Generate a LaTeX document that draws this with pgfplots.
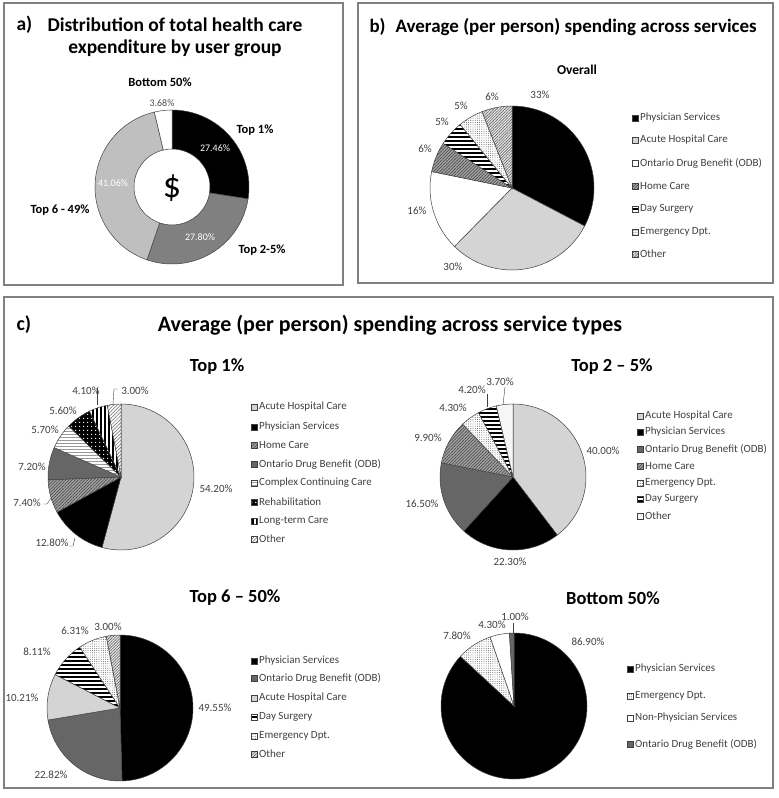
\documentclass[border=0pt]{standalone}
\usepackage{pgfplots}
\pgfplotsset{compat=1.18}
\usepackage{pgfplotstable}
\usepackage{fontspec}
\setmainfont{Carlito}
\usetikzlibrary{patterns,patterns.meta}

% wide tiles that overlap, so that no seams show between them
\pgfdeclarepatternformonly{hstripe}{\pgfpoint{-1pt}{0pt}}{\pgfpoint{21pt}{4pt}}{\pgfpoint{20pt}{4pt}}{%
  \pgfpathrectangle{\pgfpoint{-1pt}{0pt}}{\pgfpoint{22pt}{2.2pt}}\pgfusepath{fill}}
\pgfdeclarepatternformonly{hthin}{\pgfpoint{-1pt}{0pt}}{\pgfpoint{21pt}{3pt}}{\pgfpoint{20pt}{3pt}}{%
  \pgfpathrectangle{\pgfpoint{-1pt}{0pt}}{\pgfpoint{22pt}{0.9pt}}\pgfusepath{fill}}
\pgfdeclarepatternformonly{vstripe}{\pgfpoint{0pt}{-1pt}}{\pgfpoint{4pt}{21pt}}{\pgfpoint{4pt}{20pt}}{%
  \pgfpathrectangle{\pgfpoint{0pt}{-1pt}}{\pgfpoint{2pt}{22pt}}\pgfusepath{fill}}

% slice values and fill styles, clockwise from 12 o'clock
\pgfplotstableread{
v s
27.46 cblack
27.80 cmid
41.06 clighttwo
3.68 cwhite
}\donut
\pgfplotstableread{
v s
33 cblack
30 clight
16 cwhite
6 home
5 day
5 emerg
6 otherx
}\overall
\pgfplotstableread{
v s
54.2 clight
12.8 cblack
7.4 home
7.2 cdark
5.7 ccc
5.6 rehab
4.1 ltc
3.0 otherl
}\topone
\pgfplotstableread{
v s
40.0 clight
22.3 cblack
16.5 cdark
9.9 home
4.3 emerg
4.2 day
3.7 otherd
}\toptwo
\pgfplotstableread{
v s
49.55 cblack
22.82 cdark
10.21 clight
8.11 day
6.31 emerg
3.00 otherx
}\topsix
\pgfplotstableread{
v s
86.9 cblack
7.8 emerg
4.3 cwhite
1.0 cdark
}\bottom

\tikzset{
  sl/.style={draw=black!75, line width=0.5pt},
  slstyle/.style={#1},
  cblack/.style={fill=black},
  cmid/.style={fill=black!50},
  clighttwo/.style={fill=black!25},
  cwhite/.style={fill=white},
  clight/.style={fill=black!17},
  cdark/.style={fill=black!60},
  home/.style={preaction={fill=black!35}, pattern={Lines[angle=45,distance=2.2pt,line width=0.7pt]}, pattern color=black!70},
  day/.style={preaction={fill=white}, pattern=hstripe, pattern color=black},
  emerg/.style={preaction={fill=white}, pattern={Dots[distance=2.2pt,radius=0.45pt]}, pattern color=black!70},
  otherx/.style={preaction={fill=black!10}, pattern={Lines[angle=45,distance=2pt,line width=0.6pt]}, pattern color=black!60},
  otherl/.style={preaction={fill=white}, pattern={Lines[angle=45,distance=2.5pt,line width=0.5pt]}, pattern color=black!60},
  otherd/.style={preaction={fill=white}, pattern={Dots[distance=2pt,radius=0.4pt]}, pattern color=black!40},
  ccc/.style={preaction={fill=white}, pattern=hthin, pattern color=black!40},
  rehab/.style={preaction={fill=black}, pattern={Dots[distance=4pt,radius=0.9pt]}, pattern color=white},
  ltc/.style={preaction={fill=white}, pattern=vstripe, pattern color=black},
  frame/.style={draw=black!50, line width=1.5pt},
  pct/.style={font=\fontsize{11}{13}\selectfont, text=black!75},
  inpct/.style={font=\fontsize{10}{12}\selectfont},
  legtxt/.style={font=\fontsize{11}{13}\selectfont, text=black!75, anchor=west, inner sep=0pt},
  ttl/.style={font=\fontsize{18.5}{21}\bfseries\selectfont},
}

% #1 table, #2 cx, #3 cy, #4 outer radius, #5 inner radius (0 = full pie)
\newcommand\pie[5]{%
  \pgfplotsextra{%
    \pgfplotstablegetrowsof{#1}\pgfmathtruncatemacro\nrows{\pgfplotsretval-1}%
    \gdef\tot{0}%
    \foreach \i in {0,...,\nrows}{%
      \pgfplotstablegetelem{\i}{v}\of{#1}\pgfmathsetmacro\tmp{\tot+\pgfplotsretval}\xdef\tot{\tmp}}%
    \gdef\acc{0}%
    \foreach \i in {0,...,\nrows}{%
      \pgfplotstablegetelem{\i}{v}\of{#1}\let\vv\pgfplotsretval
      \pgfplotstablegetelem{\i}{s}\of{#1}\let\sty\pgfplotsretval
      \pgfmathsetmacro\angA{90-(\acc/\tot)*360}%
      \pgfmathsetmacro\angB{90-((\acc+\vv)/\tot)*360}%
      \pgfmathsetmacro\xo{#2+#4*cos(\angA)}\pgfmathsetmacro\yo{#3-#4*sin(\angA)}%
      \ifdim #5pt>0pt
        \pgfmathsetmacro\xi{#2+#5*cos(\angB)}\pgfmathsetmacro\yi{#3-#5*sin(\angB)}%
        \path[sl,slstyle/.expand once=\sty] (axis cs:\xo,\yo) arc[start angle=\angA,end angle=\angB,radius=#4pt]
          -- (axis cs:\xi,\yi) arc[start angle=\angB,end angle=\angA,radius=#5pt] -- cycle;
      \else
        \path[sl,slstyle/.expand once=\sty] (axis cs:#2,#3) -- (axis cs:\xo,\yo)
          arc[start angle=\angA,end angle=\angB,radius=#4pt] -- cycle;
      \fi
      \pgfmathsetmacro\tmp{\acc+\vv}\xdef\acc{\tmp}%
    }%
  }%
}
% legend entry: x, y, style, text
\newcommand\leg[4]{%
  \path[sl,line width=0.4pt,#3] ({#1},{#2-3}) rectangle ({#1+6},{#2+3});
  \node[legtxt] at ({#1+8},{#2}) {#4};
}

\begin{document}
\begin{tikzpicture}
\begin{axis}[hide axis, scale only axis, width=779pt, height=798pt,
  xmin=0, xmax=779, ymin=0, ymax=798, y dir=reverse, clip=false, enlargelimits=false]
\path (0,0) rectangle (779,798);

% ---- panel a
\draw[frame] (4,3) rectangle (343,285);
\node[anchor=west, font=\fontsize{19.5}{22}\bfseries\selectfont] at (13,25) {a)};
\node[font=\fontsize{19.5}{22}\bfseries\selectfont] at (175,25) {Distribution of total health care};
\node[font=\fontsize{19.5}{22}\bfseries\selectfont] at (175,48) {expenditure by user group};
\pie{\donut}{172}{187}{77}{38}
\node[font=\fontsize{36}{38}\selectfont] at (172,188) {\$};
\node[inpct, text=white] at (215,148) {27.46\%};
\node[inpct, text=white] at (200,237) {27.80\%};
\node[inpct, text=white] at (113,183) {41.06\%};
\node[inpct, text=black!70] at (162,103) {3.68\%};
\node[font=\fontsize{12.5}{14}\bfseries\selectfont] at (160,82) {Bottom 50\%};
\node[font=\fontsize{12.5}{14}\bfseries\selectfont] at (255,130) {Top 1\%};
\node[font=\fontsize{12.5}{14}\bfseries\selectfont] at (60,210) {Top 6 - 49\%};
\node[font=\fontsize{12.5}{14}\bfseries\selectfont] at (262,250) {Top 2-5\%};

% ---- panel b
\draw[frame] (358,3) rectangle (773,283);
\node[anchor=west, font=\fontsize{19}{21}\bfseries\selectfont] at (366,27) {b)};
\node[anchor=west, font=\fontsize{19}{21}\bfseries\selectfont] at (392,27) {Average (per person) spending across services};
\node[font=\fontsize{13.5}{16}\bfseries\selectfont] at (577,70) {Overall};
\pie{\overall}{512}{188}{82}{0}
\node[pct] at (540,95) {33\%};
\node[pct] at (453,267) {30\%};
\node[pct] at (417,211) {16\%};
\node[pct] at (425,149) {6\%};
\node[pct] at (442,122) {5\%};
\node[pct] at (461,106) {5\%};
\node[pct] at (492,97) {6\%};
\leg{632}{118}{cblack}{Physician Services}
\leg{632}{140}{clight}{Acute Hospital Care}
\leg{632}{163}{cwhite}{Ontario Drug Benefit (ODB)}
\leg{632}{186}{home}{Home Care}
\leg{632}{209}{day}{Day Surgery}
\leg{632}{232}{emerg}{Emergency Dpt.}
\leg{632}{254}{otherx}{Other}

% ---- panel c
\draw[frame] (4,297) rectangle (773,788);
\node[anchor=west, font=\fontsize{20}{22}\bfseries\selectfont] at (13,325) {c)};
\node[font=\fontsize{22}{24}\bfseries\selectfont] at (390,325) {Average (per person) spending across service types};

% Top 1%
\node[ttl] at (217,367) {Top 1\%};
\pie{\topone}{121}{477}{73}{0}
\node[pct] at (216,489) {54.20\%};
\node[pct] at (52,543) {12.80\%};
\node[pct] at (27,503) {7.40\%};
\node[pct] at (32,467) {7.20\%};
\node[pct] at (45,430) {5.70\%};
\node[pct] at (63,411) {5.60\%};
\node[pct] at (86,391) {4.10\%};
\node[pct] at (135,391) {3.00\%};
\draw[black!75, line width=0.4pt] (69,546) -- (73,546) -- (75,538);
\draw[black!75, line width=0.4pt] (43,504) -- (47,504) -- (51,498);
\draw[black!75, line width=0.4pt] (97,388) -- (97,405);
\draw[black!75, line width=0.4pt] (118,389) -- (114,389) -- (113,404);
\leg{251}{407}{clight}{Acute Hospital Care}
\leg{251}{427}{cblack}{Physician Services}
\leg{251}{445}{home}{Home Care}
\leg{251}{464}{cdark}{Ontario Drug Benefit (ODB)}
\leg{251}{483}{ccc}{Complex Continuing Care}
\leg{251}{502}{rehab}{Rehabilitation}
\leg{251}{521}{ltc}{Long-term Care}
\leg{251}{539}{otherl}{Other}

% Top 2-5%
\node[ttl] at (612,367) {Top 2 -- 5\%};
\pie{\toptwo}{513}{477}{73}{0}
\node[pct] at (603,451) {40.00\%};
\node[pct] at (510,562) {22.30\%};
\node[pct] at (422,504) {16.50\%};
\node[pct] at (428,438) {9.90\%};
\node[pct] at (453,408) {4.30\%};
\node[pct] at (472,390) {4.20\%};
\node[pct] at (500,382) {3.70\%};
\draw[black!75, line width=0.4pt] (487,394) -- (487,407);
\draw[black!75, line width=0.4pt] (505,387) -- (503,405);
\leg{637}{416}{clight}{Acute Hospital Care}
\leg{637}{432}{cblack}{Physician Services}
\leg{637}{449}{cdark}{Ontario Drug Benefit (ODB)}
\leg{637}{466}{home}{Home Care}
\leg{637}{483}{emerg}{Emergency Dpt.}
\leg{637}{499}{day}{Day Surgery}
\leg{637}{516}{otherd}{Other}

% Top 6-50%
\node[ttl] at (235,598) {Top 6 -- 50\%};
\pie{\topsix}{120}{708}{73}{0}
\node[pct] at (215,708) {49.55\%};
\node[pct] at (51,775) {22.82\%};
\node[pct] at (22,698) {10.21\%};
\node[pct] at (37,652) {8.11\%};
\node[pct] at (75,631) {6.31\%};
\node[pct] at (108,627) {3.00\%};
\leg{251}{661}{cblack}{Physician Services}
\leg{251}{678}{cdark}{Ontario Drug Benefit (ODB)}
\leg{251}{698}{clight}{Acute Hospital Care}
\leg{251}{717}{day}{Day Surgery}
\leg{251}{736}{emerg}{Emergency Dpt.}
\leg{251}{754}{otherx}{Other}

% Bottom 50%
\node[ttl] at (613,598) {Bottom 50\%};
\pie{\bottom}{514}{706}{73}{0}
\node[pct] at (588,642) {86.90\%};
\node[pct] at (457,636) {7.80\%};
\node[pct] at (492,625) {4.30\%};
\node[pct] at (515,617) {1.00\%};
\draw[black!75, line width=0.4pt] (513,623) -- (513,633);
\leg{627}{669}{cblack}{Physician Services}
\leg{627}{696}{emerg}{Emergency Dpt.}
\leg{627}{718}{cwhite}{Non-Physician Services}
\leg{627}{744}{cdark}{Ontario Drug Benefit (ODB)}
\end{axis}
\end{tikzpicture}
\end{document}
